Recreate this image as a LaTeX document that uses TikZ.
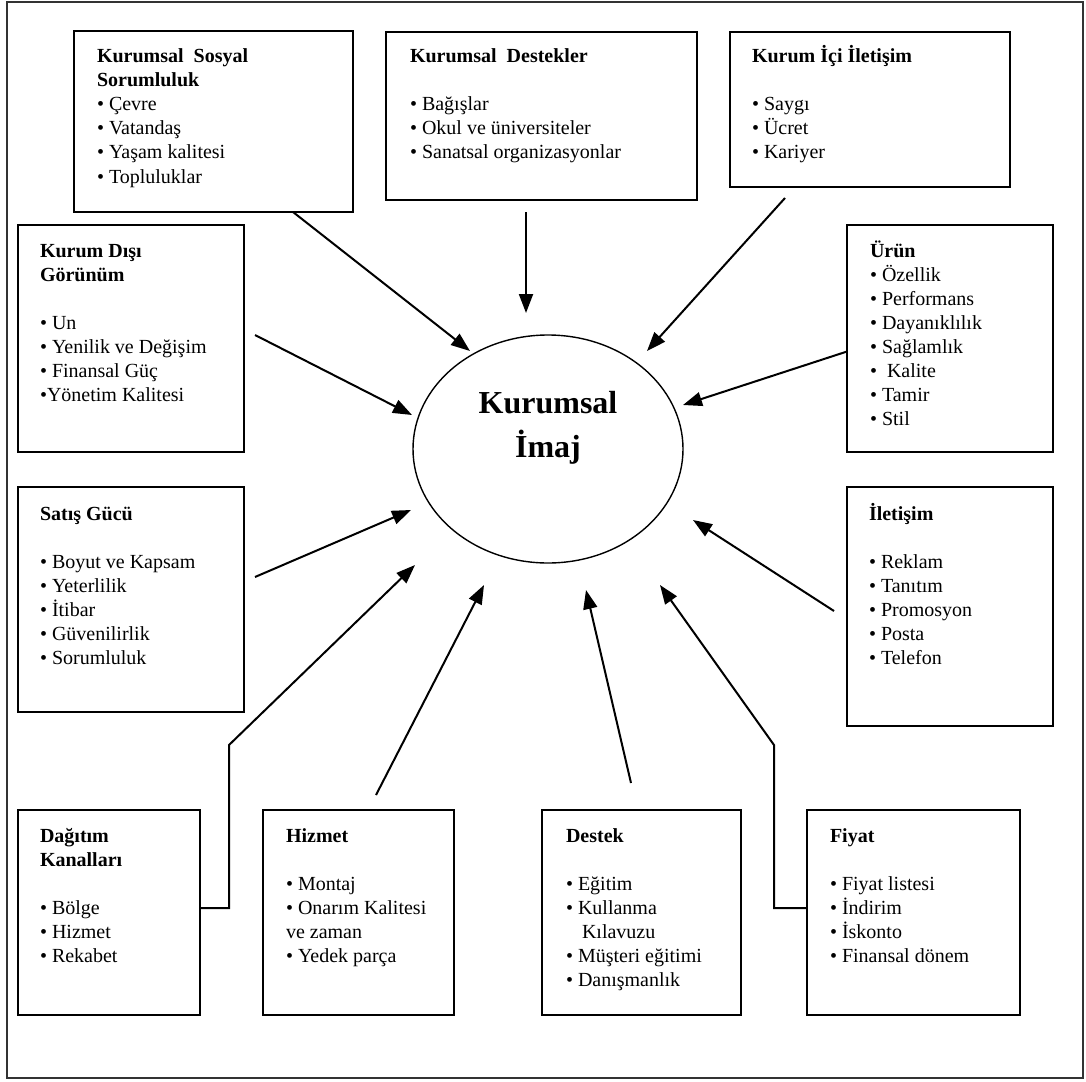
\documentclass[tikz,border=0pt]{standalone}
\usepackage{fontspec}
\setmainfont{Liberation Serif}
\usetikzlibrary{arrows.meta,shapes.geometric,fit}

\tikzset{
  frame/.style={draw=black!80, line width=1.6pt},
  box/.style={draw=black, line width=1.8pt, inner sep=0pt, outer sep=0pt},
  txt/.style={inner sep=0pt, outer sep=0pt, anchor=base west,
              font=\fontsize{20}{24}\selectfont},
  core/.style={ellipse, draw=black, line width=1.4pt, inner sep=0pt,
               minimum width=270pt, minimum height=228pt},
  coretxt/.style={inner sep=0pt, anchor=base,
                  font=\bfseries\fontsize{32}{44}\selectfont},
  arr/.style={line width=2pt, -{Triangle[length=19pt,width=14pt]}},
}
\newcommand{\itm}{•~}
\newcommand{\boxtext}[2]{\parbox[t]{#1}{\raggedright #2}}

\begin{document}
\begin{tikzpicture}[x=1pt, y=-1pt]
\useasboundingbox (0,0) rectangle (1086,1081);

% outer frame
\draw[frame] (7,2) rectangle (1083,1078);

% factor boxes
\node[box, fit={(74,31) (353,212)}]    (ks)  {};
\node[box, fit={(386,32) (697,200)}]   (kd)  {};
\node[box, fit={(730,32) (1010,187)}]  (ki)  {};
\node[box, fit={(18,225) (244,452)}]   (kg)  {};
\node[box, fit={(847,225) (1053,452)}] (ur)  {};
\node[box, fit={(18,487) (244,712)}]   (sg)  {};
\node[box, fit={(847,487) (1053,726)}] (il)  {};
\node[box, fit={(18,810) (200,1015)}]  (dk)  {};
\node[box, fit={(263,810) (454,1015)}] (hz)  {};
\node[box, fit={(542,810) (741,1015)}] (ds)  {};
\node[box, fit={(807,810) (1020,1015)}] (fy) {};

% box contents
\node[txt] (ks-t) at (97,63) {\boxtext{240pt}{%
  \textbf{Kurumsal~~Sosyal}\\
  \textbf{Sorumluluk}\\
  \itm Çevre\\
  \itm Vatandaş\\
  \itm Yaşam kalitesi\\
  \itm Topluluklar}};

\node[txt] (kd-t) at (410,63) {\boxtext{280pt}{%
  \textbf{Kurumsal~~Destekler}\\[24pt]
  \itm Bağışlar\\
  \itm Okul ve üniversiteler\\
  \itm Sanatsal organizasyonlar}};

\node[txt] (ki-t) at (752,63) {\boxtext{240pt}{%
  \textbf{Kurum İçi İletişim}\\[24pt]
  \itm Saygı\\
  \itm Ücret\\
  \itm Kariyer}};

\node[txt] (kg-t) at (40,257) {\boxtext{200pt}{%
  \textbf{Kurum Dışı}\\
  \textbf{Görünüm}\\[24pt]
  \itm Un\\
  \itm Yenilik ve Değişim\\
  \itm Finansal Güç\\
  •Yönetim Kalitesi}};

\node[txt] (ur-t) at (870,257) {\boxtext{180pt}{%
  \textbf{Ürün}\\
  \itm Özellik\\
  \itm Performans\\
  \itm Dayanıklılık\\
  \itm Sağlamlık\\
  •~~Kalite\\
  \itm Tamir\\
  \itm Stil}};

\node[txt] (sg-t) at (40,520) {\boxtext{200pt}{%
  \textbf{Satış Gücü}\\[24pt]
  \itm Boyut ve Kapsam\\
  \itm Yeterlilik\\
  \itm İtibar\\
  \itm Güvenilirlik\\
  \itm Sorumluluk}};

\node[txt] (il-t) at (869,520) {\boxtext{180pt}{%
  \textbf{İletişim}\\[24pt]
  \itm Reklam\\
  \itm Tanıtım\\
  \itm Promosyon\\
  \itm Posta\\
  \itm Telefon}};

\node[txt] (dk-t) at (40,842) {\boxtext{155pt}{%
  \textbf{Dağıtım}\\
  \textbf{Kanalları}\\[24pt]
  \itm Bölge\\
  \itm Hizmet\\
  \itm Rekabet}};

\node[txt] (hz-t) at (286,842) {\boxtext{165pt}{%
  \textbf{Hizmet}\\[24pt]
  \itm Montaj\\
  \itm Onarım Kalitesi\\
  ve zaman\\
  \itm Yedek parça}};

\node[txt] (ds-t) at (566,842) {\boxtext{175pt}{%
  \textbf{Destek}\\[24pt]
  \itm Eğitim\\
  \itm Kullanma\\
  \hspace*{16pt}Kılavuzu\\
  \itm Müşteri eğitimi\\
  \itm Danışmanlık}};

\node[txt] (fy-t) at (830,842) {\boxtext{185pt}{%
  \textbf{Fiyat}\\[24pt]
  \itm Fiyat listesi\\
  \itm İndirim\\
  \itm İskonto\\
  \itm Finansal dönem}};

% central ellipse
\node[core] (img) at (548,449) {};
\node[coretxt] (img-t) at (548,413) {\parbox[t]{220pt}{\centering Kurumsal\\İmaj}};

% arrow end points
\coordinate (t1)  at (470,351);
\coordinate (s2)  at (526,212);
\coordinate (t2)  at (526,313);
\coordinate (s3)  at (785,198);
\coordinate (t3)  at (647,351);
\coordinate (s4)  at (255,335);
\coordinate (t4)  at (412,415);
\coordinate (t5)  at (683,405);
\coordinate (s6)  at (255,577);
\coordinate (t6)  at (411,510);
\coordinate (s7)  at (834,611);
\coordinate (t7)  at (693,520);
\coordinate (b8)  at (229,745);
\coordinate (t8)  at (415,565);
\coordinate (s9)  at (376,795);
\coordinate (t9)  at (484,585);
\coordinate (s10) at (631,783);
\coordinate (t10) at (586,590);
\coordinate (b11) at (774,745);
\coordinate (t11) at (660,585);

% arrows into the image
\draw[arr] ([xshift=219pt]ks.south west) -- (t1);
\draw[arr] (s2) -- (t2);
\draw[arr] (s3) -- (t3);
\draw[arr] (s4) -- (t4);
\draw[arr] ([yshift=-13pt]ur.west) -- (t5);
\draw[arr] (s6) -- (t6);
\draw[arr] (s7) -- (t7);
\draw[arr] ([yshift=4.5pt]dk.east) -| (b8) -- (t8);
\draw[arr] (s9) -- (t9);
\draw[arr] (s10) -- (t10);
\draw[arr] ([yshift=4.5pt]fy.west) -| (b11) -- (t11);
\end{tikzpicture}
\end{document}
